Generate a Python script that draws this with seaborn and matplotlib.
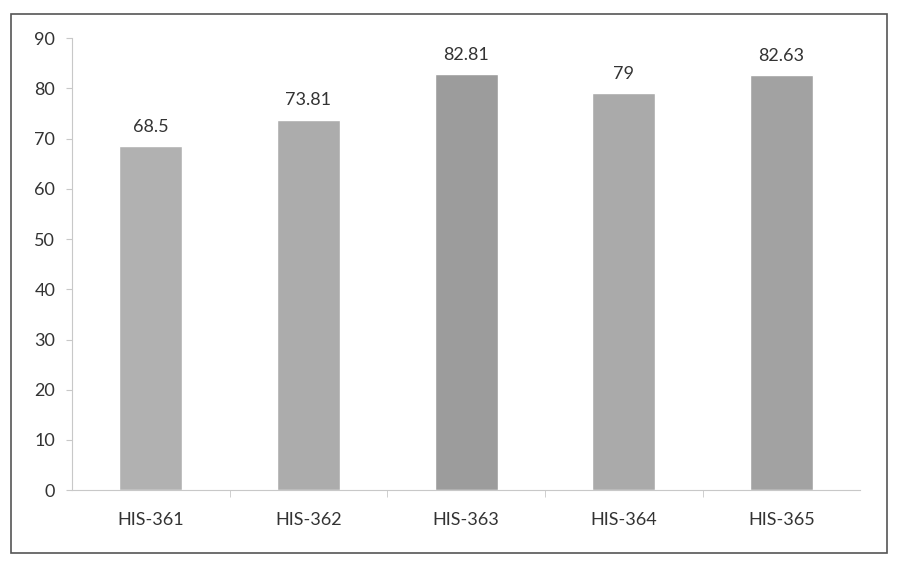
import pandas as pd
import matplotlib.pyplot as plt
import seaborn as sns
import numpy as np
from matplotlib.patches import Rectangle

# course codes and average scores
courses = ['HIS-361', 'HIS-362', 'HIS-363', 'HIS-364', 'HIS-365']
scores = [68.5, 73.81, 82.81, 79, 82.63]
labels = ['68.5', '73.81', '82.81', '79', '82.63']

df = pd.DataFrame({'course': courses, 'score': scores})

sns.set_style('white')
plt.rcParams['font.family'] = ['Lato', 'DejaVu Sans']

fig = plt.figure(figsize=(8.98, 5.70), dpi=100)
ax = fig.add_axes([0.08, 0.14, 0.878, 0.793])

bar_colors = ['#b1b1b1', '#acacac', '#9c9c9c', '#aaaaaa', '#a2a2a2']
sns.barplot(data=df, x='course', y='score', hue='course', palette=bar_colors,
            legend=False, width=0.4, ax=ax, saturation=1)

for i, (v, t) in enumerate(zip(scores, labels)):
    ax.text(i, v + 2.2, t, ha='center', va='bottom', fontsize=13, color='#333333')

ax.set_ylim(0, 90)
ax.set_xlim(-0.5, 4.5)
ax.set_yticks(np.arange(0, 91, 10))
ax.set_xlabel('')
ax.set_ylabel('')
ax.tick_params(axis='y', labelsize=13, colors='#333333', length=4, width=0.8,
               left=True, pad=8)
ax.tick_params(axis='y', color='#c8c8c8')
ax.tick_params(axis='x', labelsize=13, colors='#333333', length=0, pad=16)
ax.set_xticks([0.5, 1.5, 2.5, 3.5], minor=True)
ax.tick_params(axis='x', which='minor', length=5, color='#c8c8c8', bottom=True)

for s in ['top', 'right']:
    ax.spines[s].set_visible(False)
ax.spines['left'].set_color('#c8c8c8')
ax.spines['bottom'].set_color('#c8c8c8')

# outer chart frame
fig.patches.append(Rectangle((0.012, 0.03), 0.976, 0.945, transform=fig.transFigure,
                             fill=False, edgecolor='#555555', linewidth=1.2))

fig.savefig('out.png', dpi=100)
